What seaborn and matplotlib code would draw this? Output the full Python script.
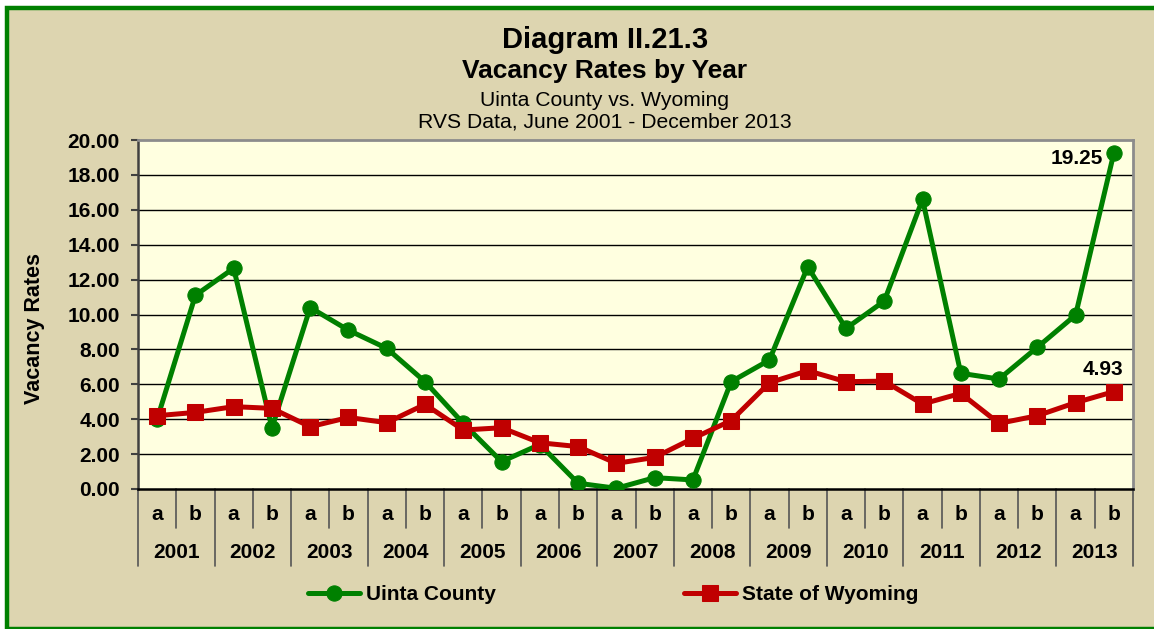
import pandas as pd
import matplotlib.pyplot as plt
import seaborn as sns
from matplotlib.patches import Rectangle

# Dados
ANOS = [str(a) for a in range(2001, 2014)]
METADES = ["a", "b"]
UINTA = [4.00, 11.10, 12.65, 3.50, 10.40, 9.10, 8.06, 6.15, 3.76, 1.57, 2.55, 0.33, 0.04,
         0.65, 0.52, 6.15, 7.39, 12.74, 9.20, 10.77, 16.60, 6.63, 6.30, 8.12, 9.97, 19.25]
WYOMING = [4.20, 4.39, 4.72, 4.62, 3.57, 4.10, 3.80, 4.85, 3.38, 3.51, 2.65, 2.43, 1.47,
           1.81, 2.90, 3.92, 6.09, 6.78, 6.15, 6.18, 4.87, 5.48, 3.76, 4.20, 4.95, 5.58]
ROTULO_UINTA = "19.25"
ROTULO_WYOMING = "4.93"
Y_TICKS = [0, 2, 4, 6, 8, 10, 12, 14, 16, 18, 20]

W, H = 1154, 629
COR_FUNDO = "#DDD5B0"
COR_PLOT = "#FFFFE0"
VERDE = "#008000"
VERMELHO = "#C00000"

sns.set_theme(style="white")
plt.rcParams["font.family"] = ["Liberation Sans", "DejaVu Sans"]
plt.rcParams["text.color"] = "black"
plt.rcParams["ytick.labelcolor"] = "black"

periodos = [f"{ano}{m}" for ano in ANOS for m in METADES]
df = pd.DataFrame({
    "pos": list(range(len(periodos))) * 2,
    "Valor": UINTA + WYOMING,
    "Serie": ["Uinta County"] * len(periodos) + ["State of Wyoming"] * len(periodos),
})

fig = plt.figure(figsize=(W / 100, H / 100), dpi=100, facecolor="white")
fig.patches.append(Rectangle((6.5 / W, 0), 1.2, (H - 7.5) / H, transform=fig.transFigure,
                             facecolor=COR_FUNDO, edgecolor=VERDE, linewidth=3.2, zorder=-10))

x0, x1, y0, y1 = 138, 1133, 140, 489
ax = fig.add_axes([x0 / W, (H - y1) / H, (x1 - x0) / W, (y1 - y0) / H])
ax.set_facecolor(COR_PLOT)

sns.lineplot(data=df[df["Serie"] == "Uinta County"], x="pos", y="Valor", ax=ax, color=VERDE,
             marker="o", markersize=11, markeredgecolor=VERDE, linewidth=3.6,
             label="Uinta County", zorder=3)
sns.lineplot(data=df[df["Serie"] == "State of Wyoming"], x="pos", y="Valor", ax=ax,
             color=VERMELHO, marker="s", markersize=12, markeredgecolor=VERMELHO,
             linewidth=3.6, label="State of Wyoming", zorder=4)

ax.set_xlim(-0.5, len(periodos) - 0.5)
ax.set_ylim(0, 20)
ax.set_yticks(Y_TICKS)
ax.set_yticklabels([f"{v:.2f}" for v in Y_TICKS], fontsize=15, fontweight="bold", color="black")
ax.set_xticks([])
ax.set_xlabel("")
ax.set_ylabel("")
ax.tick_params(axis="y", direction="out", length=5, width=1.5, color="#404040", pad=8, left=True)
for v in Y_TICKS[1:-1]:
    ax.axhline(v, color="black", linewidth=1, zorder=1)

ax.spines["top"].set_color("#8C8C8C")
ax.spines["right"].set_color("#8C8C8C")
ax.spines["top"].set_linewidth(2)
ax.spines["right"].set_linewidth(2)
ax.spines["left"].set_color("#404040")
ax.spines["left"].set_linewidth(1.8)
ax.spines["bottom"].set_color("black")
ax.spines["bottom"].set_linewidth(1.8)

# eixo de categorias em dois niveis
trans = ax.get_xaxis_transform()
altura = y1 - y0
for i, p in enumerate(periodos):
    ax.text(i, -(514 - y1) / altura, p[-1], transform=trans, ha="center", va="center",
            fontsize=15, fontweight="bold")
for k, ano in enumerate(ANOS):
    ax.text(2 * k + 0.5, -(552 - y1) / altura, ano, transform=trans, ha="center", va="center",
            fontsize=15, fontweight="bold")
    ax.plot([2 * k + 0.5] * 2, [0, -(528 - y1) / altura], transform=trans, color="#555555",
            linewidth=1.2, clip_on=False)
for k in range(len(ANOS) + 1):
    ax.plot([2 * k - 0.5] * 2, [0, -(566 - y1) / altura], transform=trans, color="#555555",
            linewidth=1.2, clip_on=False)

ultimo = len(periodos) - 1
ax.annotate(ROTULO_UINTA, (ultimo, UINTA[-1]), xytext=(-11, -5), textcoords="offset pixels",
            ha="right", va="center", fontsize=15, fontweight="bold", zorder=5)
ax.annotate(ROTULO_WYOMING, (ultimo, WYOMING[-1]), xytext=(-11, 22), textcoords="offset pixels",
            ha="center", va="center", fontsize=15, fontweight="bold", zorder=5)

fig.text(35 / W, 1 - 328 / H, "Vacancy Rates", rotation=90, ha="center", va="center",
         fontsize=15.5, fontweight="bold")

fig.text(605 / W, 1 - 40 / H, "Diagram II.21.3", ha="center", va="center",
         fontsize=21, fontweight="bold")
fig.text(605 / W, 1 - 71 / H, "Vacancy Rates by Year", ha="center", va="center",
         fontsize=19, fontweight="bold")
fig.text(605 / W, 1 - 100 / H, "Uinta County vs. Wyoming", ha="center", va="center",
         fontsize=15.2)
fig.text(605 / W, 1 - 122 / H, "RVS Data, June 2001 - December 2013", ha="center", va="center",
         fontsize=15.2)

handles, labels = ax.get_legend_handles_labels()
ax.get_legend().remove()
fig.legend(handles, labels, loc="center", bbox_to_anchor=(613 / W, 1 - 595 / H), ncol=2,
           frameon=False, handlelength=2.5, handletextpad=0.3, columnspacing=9.0,
           prop={"size": 15, "weight": "bold"})

plt.savefig("out.png", dpi=100, facecolor=fig.get_facecolor())
plt.close()
